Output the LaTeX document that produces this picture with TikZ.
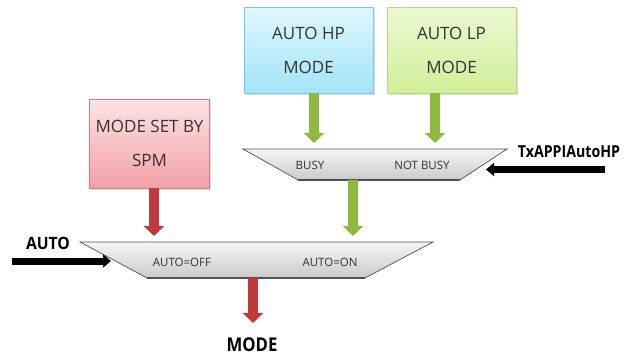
\documentclass[tikz,border=0pt]{standalone}
\usepackage{fontspec}
\setmainfont{Open Sans}
\usetikzlibrary{arrows.meta,shadows}

\definecolor{hpTop}{HTML}{E0F7FD}
\definecolor{hpBot}{HTML}{A2E4F7}
\definecolor{hpLine}{HTML}{78C8E1}
\definecolor{lpTop}{HTML}{ECF9D3}
\definecolor{lpBot}{HTML}{D0EF98}
\definecolor{lpLine}{HTML}{B6D884}
\definecolor{spmTop}{HTML}{FDE4E6}
\definecolor{spmBot}{HTML}{F3A0A6}
\definecolor{spmLine}{HTML}{DD7880}
\definecolor{muxTop}{HTML}{F6F6F6}
\definecolor{muxBot}{HTML}{CACACA}
\definecolor{muxLine}{HTML}{505050}
\definecolor{flowGreen}{HTML}{8DBA3E}
\definecolor{flowRed}{HTML}{C03A3C}
\definecolor{txt}{HTML}{333333}

\tikzset{
  modebox/.style={rectangle, draw, line width=0.8pt, align=center,
    text=txt, font=\fontsize{17}{34}\selectfont,
    drop shadow={opacity=0.25, shadow xshift=1.5pt, shadow yshift=-1.5pt}},
  hpbox/.style={modebox, draw=hpLine, top color=hpTop, bottom color=hpBot},
  lpbox/.style={modebox, draw=lpLine, top color=lpTop, bottom color=lpBot},
  spmbox/.style={modebox, draw=spmLine, top color=spmTop, bottom color=spmBot},
  mux/.style={draw=muxLine, line width=0.7pt, top color=muxTop, bottom color=muxBot},
  muxlabel/.style={text=txt, font=\fontsize{11.5}{13}\selectfont},
  siglabel/.style={text=black, font=\bfseries\fontsize{17}{19}\selectfont},
  fatgreen/.style={draw=flowGreen, line width=10pt,
    -{Triangle[width=20pt,length=10pt,fill=flowGreen]}},
  fatred/.style={draw=flowRed, line width=10pt,
    -{Triangle[width=20pt,length=10pt,fill=flowRed]}},
  sigarrow/.style={draw=black, line width=7pt,
    -{Triangle[width=13pt,length=8pt]}},
}

\begin{document}
\begin{tikzpicture}[x=1pt,y=-1pt]
\useasboundingbox (0,0) rectangle (637,356);

% source boxes
\node[hpbox, minimum width=129pt, minimum height=86pt] (hp) at (308.5,50) {AUTO HP\\MODE};
\node[lpbox, minimum width=129pt, minimum height=86pt] (lp) at (451.5,50) {AUTO LP\\MODE};
\node[spmbox, minimum width=120pt, minimum height=89pt] (spm) at (149.5,143.5) {MODE SET BY\\SPM};

% upper selector
\path[mux] (243,149) -- (507,149) -- (460,180) -- (298,180) -- cycle;
\draw[muxLine, line width=1.6pt] (298,180) -- (460,180);
\node[muxlabel] (busy) at (310,165) {BUSY};
\node[muxlabel] (notbusy) at (422,165) {NOT BUSY};

% lower selector
\path[mux] (80,242) -- (433,242) -- (365,278) -- (147,278) -- cycle;
\draw[muxLine, line width=1.6pt] (147,278) -- (365,278);
\node[muxlabel] (autooff) at (182,262) {AUTO=OFF};
\node[muxlabel] (autoon) at (330,262) {AUTO=ON};

% selector ports
\coordinate (upHP) at (314,143);
\coordinate (upLP) at (435,143);
\coordinate (upOut) at (353,180);
\coordinate (loIn) at (353,236);
\coordinate (loSPM) at (154,236);
\coordinate (loOut) at (253,278);
\coordinate (modeIn) at (253,323);
\coordinate (autoTip) at (111,261);
\coordinate (autoTail) at (12,261);
\coordinate (txTip) at (486,169.5);
\coordinate (txTail) at (605,169.5);

% signal labels
\node[siglabel] (auto) at (48,243) {\scalebox{0.92}[1]{AUTO}};
\node[siglabel, font=\bfseries\fontsize{16.5}{19}\selectfont] (tx) at (569,152) {\scalebox{0.86}[1]{TxAPPIAutoHP}};
\node[siglabel, font=\bfseries\fontsize{19}{21}\selectfont] (mode) at (252,345) {\scalebox{0.88}[1]{MODE}};

% flows
\draw[fatgreen] (hp.south -| upHP) -- (upHP);
\draw[fatgreen] (lp.south -| upLP) -- (upLP);
\draw[fatgreen] (upOut) -- (loIn);
\draw[fatred] (spm.south -| loSPM) -- (loSPM);
\draw[fatred] (loOut) -- (modeIn);
\draw[sigarrow] (autoTail) -- (autoTip);
\draw[sigarrow] (txTail) -- (txTip);
\end{tikzpicture}
\end{document}
